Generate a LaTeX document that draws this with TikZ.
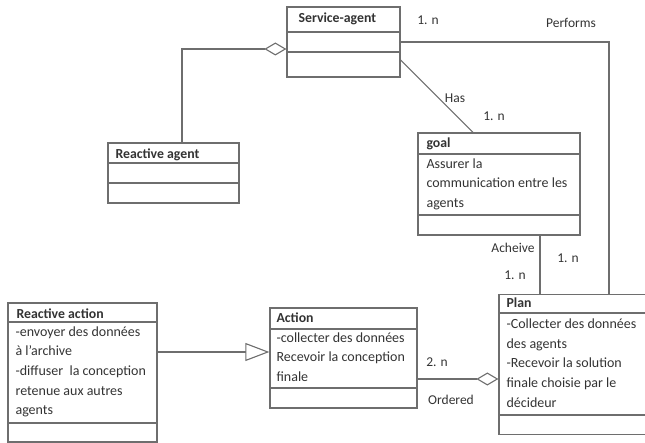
\documentclass[tikz,border=0pt]{standalone}
\usepackage{fontspec}
\setmainfont{Carlito}
\usetikzlibrary{arrows.meta,calc}
\definecolor{linegray}{HTML}{6E6E6E}
\definecolor{inkgray}{HTML}{333333}
\tikzset{
  cls/.style={draw=linegray, line width=1.3pt, rectangle, inner sep=0pt},
  divider/.style={draw=linegray, line width=1.3pt},
  conn/.style={draw=linegray, line width=1.1pt},
  ttl/.style={font=\fontsize{13.8}{14}\selectfont\bfseries, text=inkgray, inner sep=0pt, anchor=north west},
  body/.style={font=\fontsize{14}{19.6}\selectfont, text=inkgray, inner sep=0pt, anchor=north west, align=left},
  lbl/.style={font=\fontsize{13.5}{14}\selectfont, text=inkgray, inner sep=0pt},
  aggtip/.style={-{Diamond[open, length=22pt, width=13pt, line width=1.1pt, fill=white]}},
  gentip/.style={-{Triangle[open, length=24pt, width=18pt, line width=1.1pt, fill=white]}}
}
\begin{document}
\begin{tikzpicture}[x=1pt, y=-1pt]
\useasboundingbox (0,0) rectangle (645,443);
\clip (0,0) rectangle (645,443);

% class boxes
\node[cls, minimum width=113pt, minimum height=70pt]  (sa)   at (343.5,42)  {};
\node[cls, minimum width=131pt, minimum height=60pt]  (ra)   at (173.5,173) {};
\node[cls, minimum width=162pt, minimum height=102pt] (goal) at (499,184)   {};
\node[cls, minimum width=200pt, minimum height=140pt] (plan) at (599,364.5) {};
\node[cls, minimum width=147pt, minimum height=100pt] (act)  at (343.5,358) {};
\node[cls, minimum width=149pt, minimum height=139pt] (rac)  at (82.5,372.5) {};

% compartment dividers
\draw[divider] (sa.west |- 0,32) -- (sa.east |- 0,32);
\draw[divider] (sa.west |- 0,52) -- (sa.east |- 0,52);
\draw[divider] (ra.west |- 0,163) -- (ra.east |- 0,163);
\draw[divider] (ra.west |- 0,183) -- (ra.east |- 0,183);
\draw[divider] (goal.west |- 0,154) -- (goal.east |- 0,154);
\draw[divider] (goal.west |- 0,215) -- (goal.east |- 0,215);
\draw[divider] (plan.west |- 0,313) -- (plan.east |- 0,313);
\draw[divider] (plan.west |- 0,415) -- (plan.east |- 0,415);
\draw[divider] (act.west |- 0,329) -- (act.east |- 0,329);
\draw[divider] (act.west |- 0,388) -- (act.east |- 0,388);
\draw[divider] (rac.west |- 0,322) -- (rac.east |- 0,322);
\draw[divider] (rac.west |- 0,423) -- (rac.east |- 0,423);

% class names
\node[ttl] (saT)   at ($(sa.north west)+(12,6)$)   {Service-agent};
\node[ttl] (raT)   at ($(ra.north west)+(8,6)$)    {Reactive agent};
\node[ttl] (goalT) at ($(goal.north west)+(9,5)$)  {goal};
\node[ttl] (planT) at ($(plan.north west)+(8,4)$)  {Plan};
\node[ttl] (actT)  at ($(act.north west)+(7,5)$)   {Action};
\node[ttl] (racT)  at ($(rac.north west)+(9,6)$)   {Reactive action};

% attributes
\node[body] (goalB) at ($(goal.north west)+(9,26)$) {Assurer la\\communication entre les\\agents};
\node[body] (planB) at ($(plan.north west)+(8,25)$) {-Collecter des données\\des agents\\-Recevoir la solution\\finale choisie par le\\décideur};
\node[body] (actB)  at ($(act.north west)+(7,25)$)  {-collecter des données\\Recevoir la conception\\finale};
\node[body] (racB)  at ($(rac.north west)+(8,24)$)  {-envoyer des données\\à l’archive\\-diffuser~ la conception\\retenue aux autres\\agents};

% Reactive agent --<> Service-agent
\draw[conn, aggtip] (182,0 |- ra.north) |- (sa.west |- 0,49);

% Service-agent -- goal (Has)
\draw[conn] (sa.east |- 0,60) -- (473,0 |- goal.north);
\node[lbl] (has)  at (455,98)  {Has};
\node[lbl] (m1)   at (494,116) {1. n};

% Service-agent -- Plan (Performs)
\draw[conn] (sa.east |- 0,42) -| (609,0 |- plan.north);
\node[lbl] (m2)   at (428,20)  {1. n};
\node[lbl] (perf) at (571,23)  {Performs};

% goal -- Plan (Acheive)
\draw[conn] (540,0 |- goal.south) -- (540,0 |- plan.north);
\node[lbl] (ach)  at (513,248) {Acheive};
\node[lbl] (m3)   at (515,275) {1. n};
\node[lbl] (m4)   at (568,258) {1. n};

% Reactive action --|> Action
\draw[conn, gentip] (rac.east |- 0,352) -- (act.west |- 0,352);

% Action --<> Plan (Ordered)
\draw[conn, aggtip] (act.east |- 0,379) -- (plan.west |- 0,379);
\node[lbl] (m5)   at (437,362) {2. n};
\node[lbl] (ord)  at (451,400) {Ordered};
\end{tikzpicture}
\end{document}
